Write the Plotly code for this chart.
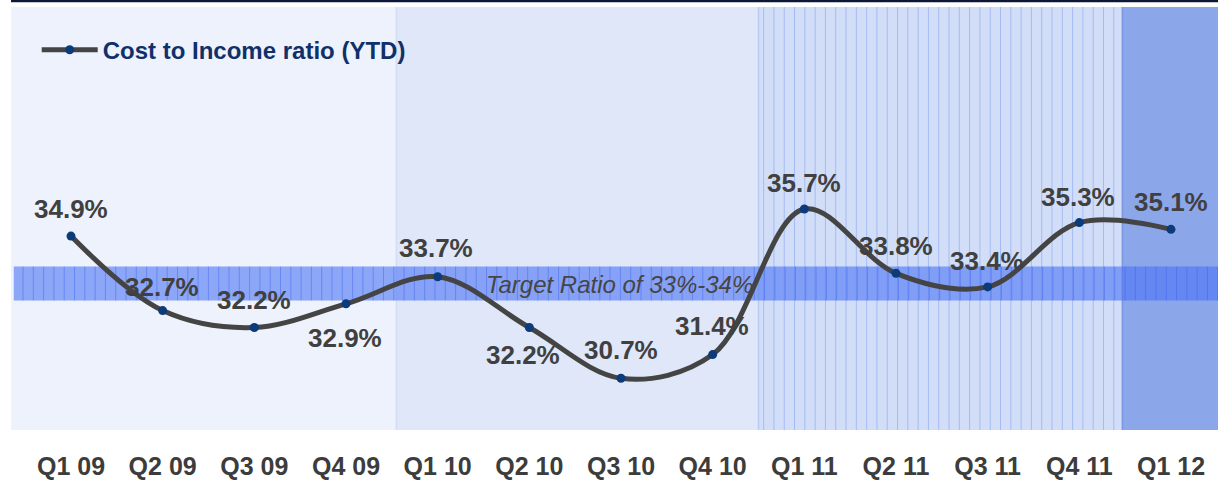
import numpy as np
import plotly.graph_objects as go

# ---------------- data ----------------
quarters = ["Q1 09", "Q2 09", "Q3 09", "Q4 09", "Q1 10", "Q2 10", "Q3 10",
            "Q4 10", "Q1 11", "Q2 11", "Q3 11", "Q4 11", "Q1 12"]
cost_income = [34.9, 32.7, 32.2, 32.9, 33.7, 32.2, 30.7, 31.4, 35.7, 33.8, 33.4, 35.3, 35.1]
target_low = 33.0
target_high = 34.0
series_name = "Cost to Income ratio (YTD)"
target_label = "Target Ratio of 33%-34%"

# ---------------- styling ----------------
label_dy = [27, 24, 28, -34, 29, -27, 28, 29, 26, 27, 26, 26, 27]
label_dx = [0, -1, 0, -1, -2, -6, 0, -1, 0, 0, -1, -1, 0]
x_idx = list(range(len(quarters)))
x_range = [-0.6545, 12.513]
y_range = [29.172, 41.668]
year_bounds = [x_range[0], 3.55, 7.5, 11.47, x_range[1]]
year_fill = ["#eef2fc", "#dfe7f8", "#d2def8", "#8ca6ea"]

fig = go.Figure()

shapes = []
# year background panels
for i in range(4):
    shapes.append(dict(type="rect", xref="x", yref="y", x0=year_bounds[i], x1=year_bounds[i + 1],
                       y0=y_range[0], y1=y_range[1], fillcolor=year_fill[i],
                       line=dict(width=0), layer="below"))
# edges between panels
for i, col in zip([1, 2, 3], ["#d3ddf5", "#b9cbf3", "#7b95e0"]):
    shapes.append(dict(type="line", xref="x", yref="y", x0=year_bounds[i], x1=year_bounds[i],
                       y0=y_range[0], y1=y_range[1], line=dict(color=col, width=1.5), layer="below"))
# 2011 hatching
step = 10.3 / 91.67
for xv in np.arange(year_bounds[2] + step * 0.5, year_bounds[3], step):
    shapes.append(dict(type="line", xref="x", yref="y", x0=xv, x1=xv,
                       y0=y_range[0], y1=y_range[1],
                       line=dict(color="rgba(150,176,240,0.75)", width=1), layer="below"))
# target band
shapes.append(dict(type="rect", xref="x", yref="y", x0=x_range[0] + 0.03, x1=x_range[1],
                   y0=target_low, y1=target_high, fillcolor="rgba(75,115,245,0.6)",
                   line=dict(width=0), layer="below"))
for xv in np.arange(x_range[0] + 0.03 + step * 0.9, x_range[1], step):
    shapes.append(dict(type="line", xref="x", yref="y", x0=xv, x1=xv,
                       y0=target_low, y1=target_high,
                       line=dict(color="rgba(60,100,240,0.45)", width=1), layer="below"))
# top border line
shapes.append(dict(type="line", xref="paper", yref="paper", x0=0, x1=1,
                   y0=1.0142, y1=1.0142, line=dict(color="#0c1838", width=2.5)))

fig.add_trace(go.Scatter(
    x=x_idx, y=cost_income, mode="lines+markers", name=f"<b>{series_name}</b>",
    line=dict(color="#444444", width=5, shape="spline", smoothing=1.0),
    marker=dict(color="#0b3b7a", size=9),
    showlegend=True,
))

annotations = []
for i, v in enumerate(cost_income):
    annotations.append(dict(x=x_idx[i], y=v, xref="x", yref="y", text=f"<b>{v:.1f}%</b>",
                            showarrow=False, yshift=label_dy[i], xshift=label_dx[i],
                            yanchor="middle", xanchor="center",
                            font=dict(family="Arial, Liberation Sans", size=26, color="#404040")))
annotations.append(dict(x=5.98, y=(target_low + target_high) / 2, xref="x", yref="y",
                        text=f"<i>{target_label}</i>", showarrow=False,
                        yshift=-1, font=dict(family="Arial, Liberation Sans", size=24, color="#454545")))

fig.update_layout(
    width=1226, height=491,
    margin=dict(l=11, r=8, t=7, b=61),
    paper_bgcolor="white", plot_bgcolor="white",
    shapes=shapes, annotations=annotations,
    showlegend=True,
    legend=dict(x=0.0213, y=0.898, xanchor="left", yanchor="middle", bgcolor="rgba(0,0,0,0)",
                itemwidth=56,
                font=dict(family="Arial, Liberation Sans", size=24, color="#10306a")),
    xaxis=dict(range=x_range, tickvals=x_idx, ticktext=[f"<b>{q}</b>" for q in quarters],
               showgrid=False, zeroline=False, showline=False, ticks="",
               ticklabelstandoff=19,
               tickfont=dict(family="Arial, Liberation Sans", size=25, color="#3c3c3c")),
    yaxis=dict(range=y_range, showgrid=False, zeroline=False, showline=False,
               showticklabels=False, ticks=""),
)

fig.write_html("out.html", post_script="document.body.style.margin='0px';",
               config={"displayModeBar": False})
